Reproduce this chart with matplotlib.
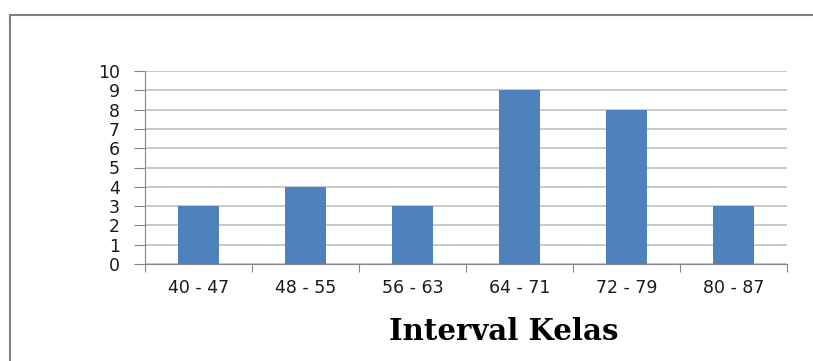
import matplotlib.pyplot as plt
from matplotlib.lines import Line2D

# frequency of scores per class interval
kelas = ['40 - 47', '48 - 55', '56 - 63', '64 - 71', '72 - 79', '80 - 87']
frekuensi = [3, 4, 3, 9, 8, 3]

W, H = 813, 361
fig = plt.figure(figsize=(W / 100, H / 100), dpi=100)

# plot area in pixel coordinates
left, right, top, bottom = 145, 787, 71, 264
ax = fig.add_axes([left / W, 1 - bottom / H, (right - left) / W, (bottom - top) / H])

x = range(len(kelas))
ax.bar(x, frekuensi, width=0.385, color='#4F81BD', zorder=3)

ax.set_xlim(-0.5, len(kelas) - 0.5)
ax.set_ylim(0, 10)
ax.set_yticks(range(0, 11))
ax.yaxis.grid(True, color='#C0C0C0', linewidth=1.2, zorder=0)

for s in ['top', 'right']:
    ax.spines[s].set_visible(False)
ax.spines['left'].set_color('#868686')
ax.spines['bottom'].set_color('#868686')

# category boundaries get the ticks, labels sit in the middle
ax.set_xticks([i - 0.5 for i in range(len(kelas) + 1)])
ax.set_xticklabels([])
ax.set_xticks(list(x), minor=True)
ax.set_xticklabels(kelas, minor=True)
ax.tick_params(axis='x', which='major', length=6, color='#868686')
ax.tick_params(axis='x', which='minor', length=0, pad=11)
ax.tick_params(axis='y', length=8, color='#868686', pad=10)
for lab in ax.get_xticklabels(minor=True) + ax.get_yticklabels():
    lab.set_fontfamily('DejaVu Sans')
    lab.set_fontsize(12.5)
    lab.set_color('#1A1A1A')

fig.text(504 / W, 1 - 331 / H, 'Interval Kelas', ha='center', va='center',
         family='DejaVu Serif', weight='bold', fontsize=21)

# frame around the chart
fig.add_artist(Line2D([10 / W, 10 / W], [0, 1 - 15 / H], transform=fig.transFigure,
                      color='#808080', linewidth=1.5))
fig.add_artist(Line2D([10 / W, 1], [1 - 15 / H, 1 - 15 / H], transform=fig.transFigure,
                      color='#808080', linewidth=1.5))

fig.savefig('out.png', dpi=100)
